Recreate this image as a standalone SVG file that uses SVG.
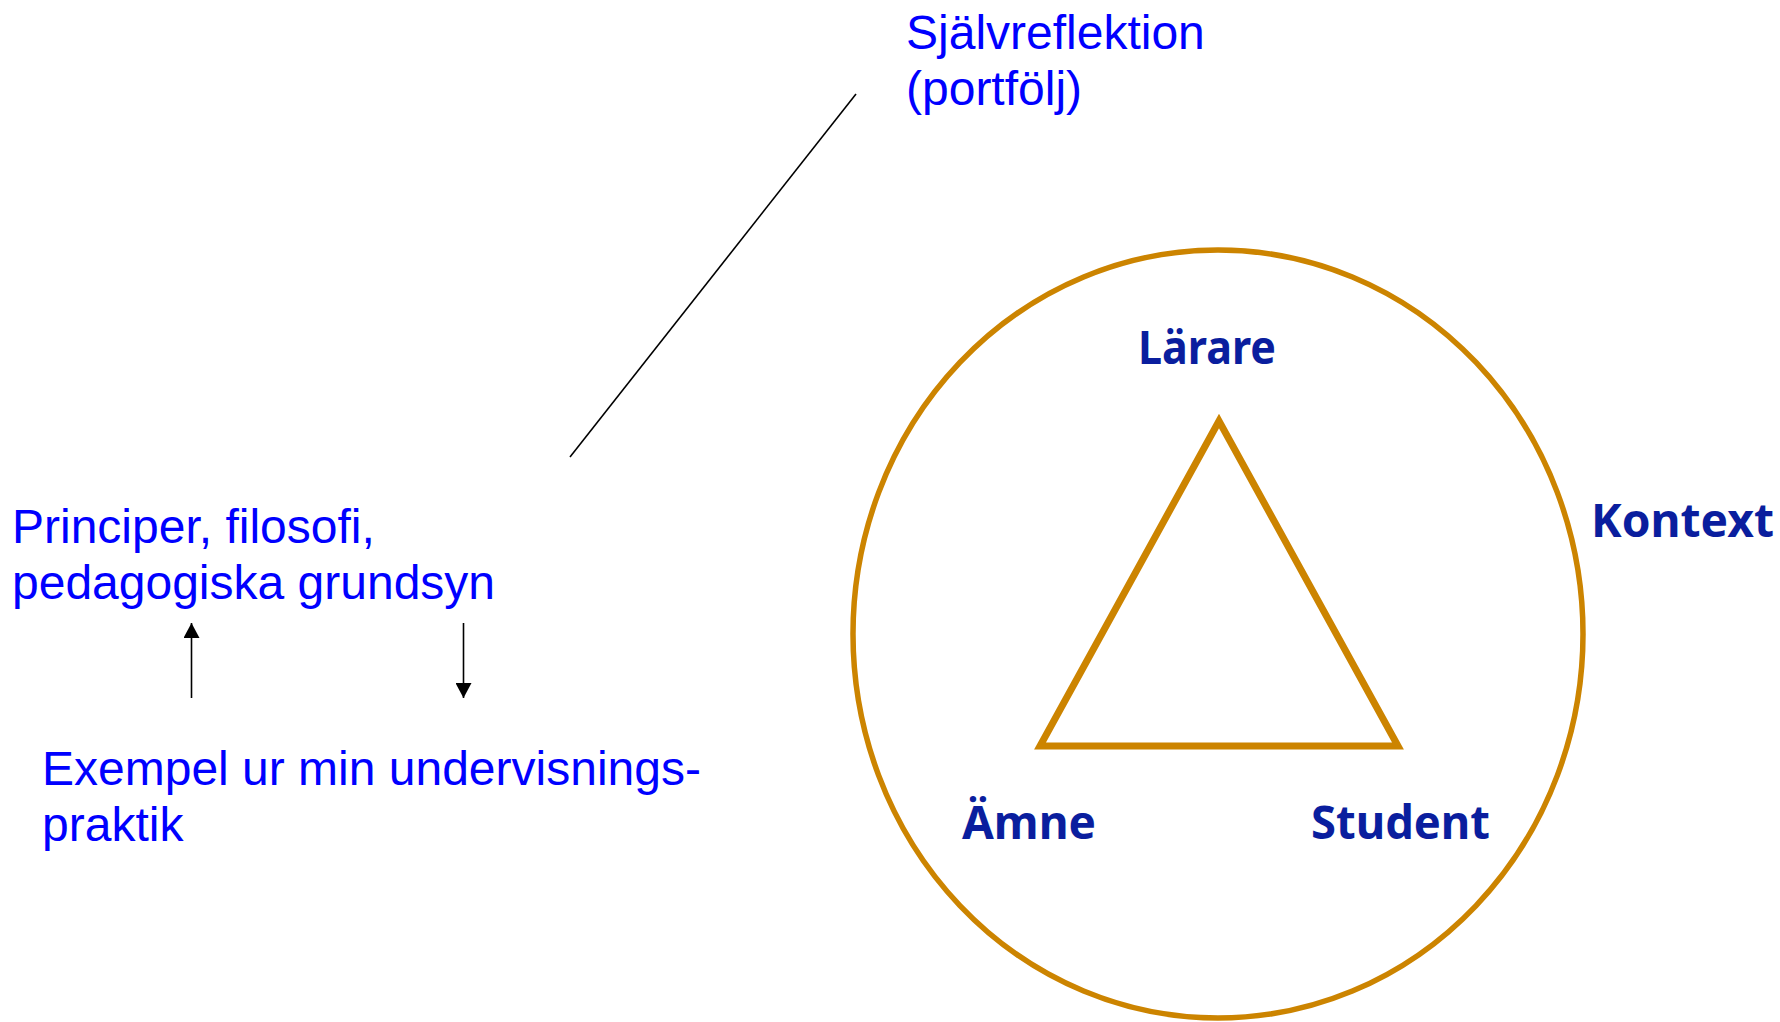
<svg xmlns="http://www.w3.org/2000/svg" width="1780" height="1022" viewBox="0 0 1780 1022">
<defs>
<style>
.blue{font-family:"Liberation Sans",Arial,sans-serif;font-size:48px;fill:#0000FF}
.lbl{font-family:"Noto Sans","Open Sans",sans-serif;font-weight:bold;font-size:47px;fill:#0A1E9E}
.shape{fill:none;stroke:#CC8400}
.conn{stroke:#000;stroke-width:1.6;fill:none}
</style>
<marker id="ah" markerUnits="userSpaceOnUse" markerWidth="16" markerHeight="16" viewBox="0 0 15 16" refX="15" refY="8" orient="auto">
<path d="M0,0 L15,8 L0,16 Z" fill="#000"/>
</marker>
</defs>
<rect width="1780" height="1022" fill="#fff"/>
<g id="sjalvreflektion">
<text class="blue" x="906" y="49">Självreflektion</text>
<text class="blue" x="906" y="105">(portfölj)</text>
</g>
<g id="principer">
<text class="blue" x="12" y="543">Principer, filosofi,</text>
<text class="blue" x="12" y="599">pedagogiska grundsyn</text>
</g>
<g id="exempel">
<text class="blue" x="42" y="785">Exempel ur min undervisnings-</text>
<text class="blue" x="42" y="841">praktik</text>
</g>
<g id="kontext">
<ellipse class="shape" cx="1218" cy="634" rx="365" ry="384" stroke-width="5.5"/>
<text class="lbl" x="1591" y="537" textLength="183" lengthAdjust="spacingAndGlyphs">Kontext</text>
</g>
<g id="triangel">
<polygon class="shape" points="1219,421 1040,746 1398,746" stroke-width="7" stroke-linejoin="miter"/>
</g>
<g id="larare">
<text class="lbl" x="1138" y="364" textLength="138" lengthAdjust="spacingAndGlyphs">Lärare</text>
</g>
<g id="amne">
<text class="lbl" x="962" y="839" textLength="134" lengthAdjust="spacingAndGlyphs">Ämne</text>
</g>
<g id="student">
<text class="lbl" x="1311" y="839" textLength="179" lengthAdjust="spacingAndGlyphs">Student</text>
</g>
<g id="connectors">
<line class="conn" x1="856" y1="94" x2="570" y2="457"/>
<line class="conn" x1="191.5" y1="698" x2="191.5" y2="623" marker-end="url(#ah)"/>
<line class="conn" x1="463.5" y1="623" x2="463.5" y2="698" marker-end="url(#ah)"/>
</g>
</svg>
